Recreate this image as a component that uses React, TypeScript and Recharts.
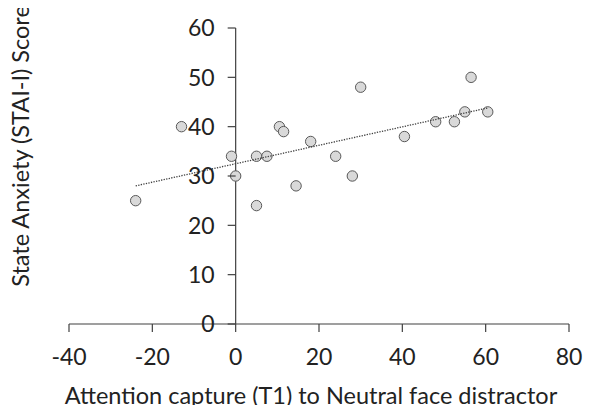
import React from 'react';
import { ScatterChart, Scatter, XAxis, YAxis, ReferenceLine, Label } from 'recharts';

// attention capture score (x) vs state anxiety (y), one entry per participant
const captureScores = [-24, -13, -1, 0, 5, 7.5, 5, 10.5, 11.5, 14.5, 18, 24, 28, 30, 40.5, 48, 52.5, 55, 56.5, 60.5];
const anxietyScores = [25, 40, 34, 30, 34, 34, 24, 40, 39, 28, 37, 34, 30, 48, 38, 41, 41, 43, 50, 43];

// endpoints of the dotted linear trendline
const trendX = [-24, 60.5];
const trendY = [28, 43.8];

const xTicks = [-40, -20, 0, 20, 40, 60, 80];
const yTicks = [0, 10, 20, 30, 40, 50, 60];

const points = captureScores.map((x, i) => ({ x, y: anxietyScores[i] }));
const trend = trendX.map((x, i) => ({ x, y: trendY[i] }));

const W = 593;
const H = 413;
const Y_AXIS_W = 20;
const margin = { top: 28, right: 24, bottom: 0, left: 69 - Y_AXIS_W };
const X_DOMAIN: [number, number] = [-40, 80];
const FONT = 'Lato, "Open Sans", sans-serif';
const TEXT = '#222';
const AXIS = '#404040';

// where x = 0 falls, so the y axis can sit there like in the original
const plotLeft = margin.left + Y_AXIS_W;
const plotW = W - plotLeft - margin.right;
const yAxisX = plotLeft + ((0 - X_DOMAIN[0]) / (X_DOMAIN[1] - X_DOMAIN[0])) * plotW;

const YTick = (props: any) => {
  const { y, payload } = props;
  return (
    <g>
      <line x1={yAxisX - 8} x2={yAxisX} y1={y} y2={y} stroke={AXIS} strokeWidth={1.2} />
      <text x={yAxisX - 21} y={y} dy="0.36em" textAnchor="end" fontSize={23} fill={TEXT} fontFamily={FONT}>
        {payload.value}
      </text>
    </g>
  );
};

const YTitle = () => (
  <text
    x={21}
    y={146}
    transform="rotate(-90, 21, 146)"
    textAnchor="middle"
    dy="0.36em"
    fontSize={23.5}
    fill={TEXT}
    fontFamily={FONT}
  >
    State Anxiety (STAI-I) Score
  </text>
);

const Dot = (p: any) => <circle cx={p.cx} cy={p.cy} r={5.2} fill="#d9d9d9" stroke="#595959" strokeWidth={1} />;

export default function App() {
  return (
    <div style={{ width: W, height: H, margin: -8, background: '#fff' }}>
      <ScatterChart width={W} height={H} margin={margin}>
        <XAxis
          type="number"
          dataKey="x"
          domain={X_DOMAIN}
          ticks={xTicks}
          interval={0}
          height={89}
          tickSize={8}
          tickMargin={17}
          stroke={AXIS}
          strokeWidth={1.2}
          tick={{ fontSize: 23, fill: TEXT, fontFamily: FONT }}
        >
          <Label
            value="Attention capture (T1) to Neutral face distractor"
            position="insideBottom"
            offset={9}
            dx={-8}
            fontSize={23.5}
            fill={TEXT}
            fontFamily={FONT}
          />
        </XAxis>
        <YAxis
          type="number"
          dataKey="y"
          domain={[0, 60]}
          ticks={yTicks}
          interval={0}
          width={Y_AXIS_W}
          axisLine={false}
          tickLine={false}
          tick={(p: any) => <YTick {...p} />}
        >
          <Label content={() => <YTitle />} />
        </YAxis>
        <ReferenceLine x={0} stroke={AXIS} strokeWidth={1.2} />
        <Scatter data={points} shape={<Dot />} isAnimationActive={false} />
        <Scatter
          data={trend}
          line={{ stroke: '#404040', strokeWidth: 1.3, strokeDasharray: '1.3 1.3' }}
          shape={() => null}
          isAnimationActive={false}
        />
      </ScatterChart>
    </div>
  );
}
